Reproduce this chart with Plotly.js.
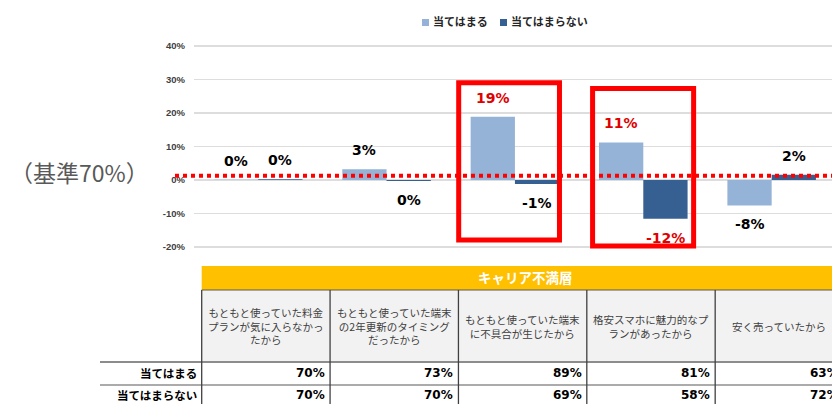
<!DOCTYPE html>
<html>
<head>
<meta charset="utf-8">
<script src="https://cdn.plot.ly/plotly-3.0.1.min.js"></script>
<style>
  html, body { margin: 0; padding: 0; background: #ffffff; overflow: hidden; }
  #chart { width: 832px; height: 404px; }
</style>
</head>
<body>
<div id="chart"></div>
<script>
const categories = [
  "もともと使っていた料金<br>プランが気に入らなかっ<br>たから",
  "もともと使っていた端末<br>の2年更新のタイミング<br>だったから",
  "もともと使っていた端末<br>に不具合が生じたから",
  "格安スマホに魅力的なプ<br>ランがあったから",
  "安く売っていたから"
];
const seriesNames = ["当てはまる", "当てはまらない"];
const fitDiff = [0.1, 3.2, 18.9, 11.2, -7.6];
const notFitDiff = [0.2, -0.3, -1.2, -11.6, 1.6];
const fitRate = ["70%", "73%", "89%", "81%", "63%"];
const notFitRate = ["70%", "70%", "69%", "58%", "72%"];
const groupTitle = "キャリア不満層";
const baseNote = "（基準70%）";
const baseLevel = 1.3;
const yTickVals = [-20, -10, 0, 10, 20, 30, 40];
const yTickText = ["-20%", "-10%", "0%", "10%", "20%", "30%", "40%"];
const highlighted = [2, 3];

const colors = ["#95B3D7", "#376092"];
const red = "#E00000";

// plot box in pixels, used for the table and legend drawn below it
const plotLeft = 194;
const plotTop = 40;
const plotW = 832 - plotLeft;
const plotH = 215;
const xRange = [-0.5, 4.47];
const unitPx = plotW / (xRange[1] - xRange[0]);
const paperX = (p) => (p - plotLeft) / plotW;
const paperY = (p) => (plotTop + plotH - p) / plotH;

const bargap = 0.31;
const half = (1 - bargap) / 4;
const tableShift = 0.06;

const series = [fitDiff, notFitDiff];

const traces = series.map((vals, t) => ({
  type: "bar",
  name: seriesNames[t],
  x: categories,
  y: vals,
  showlegend: false,
  marker: { color: colors[t], line: { width: 0 } },
  hoverinfo: "skip"
}));

const labelAnnotations = [];
series.forEach((vals, t) => {
  vals.forEach((v, i) => {
    const r = Math.round(v);
    labelAnnotations.push({
      xref: "x", yref: "y",
      x: i + (t === 0 ? -half : half),
      y: v,
      text: "<b>" + (r === 0 ? 0 : r) + "%</b>",
      showarrow: false,
      yshift: v >= 0 ? 19 : -19,
      font: { family: "DejaVu Sans, sans-serif", size: 14, color: Math.abs(r) >= 10 ? red : "#000000" }
    });
  });
});

const shapes = [];
const annotations = [...labelAnnotations];

// reference line
shapes.push({
  type: "line", xref: "paper", yref: "y",
  x0: paperX(175), x1: 1, y0: baseLevel, y1: baseLevel,
  line: { color: "#FF0000", width: 4, dash: "dot" }
});

// highlight boxes
highlighted.forEach((i, k) => {
  shapes.push({
    type: "rect", xref: "x", yref: "y",
    x0: i - (k === 0 ? 0.438 : 0.395), x1: i + (k === 0 ? 0.347 : 0.392),
    y0: k === 0 ? -17.9 : -19.7, y1: k === 0 ? 29.0 : 27.3,
    line: { color: "#FF0000", width: 5 },
    layer: "above"
  });
});

// legend
seriesNames.forEach((name, t) => {
  const sx = t === 0 ? 422 : 500;
  shapes.push({
    type: "rect", xref: "paper", yref: "paper",
    x0: paperX(sx), x1: paperX(sx + 7), y0: paperY(26), y1: paperY(19),
    fillcolor: colors[t], line: { width: 0 }
  });
  annotations.push({
    xref: "paper", yref: "paper",
    x: paperX(sx + 9), y: paperY(21),
    xanchor: "left", yanchor: "middle",
    text: "<b>" + name + "</b>",
    showarrow: false,
    font: { family: "Noto Sans CJK JP, sans-serif", size: 11, color: "#262626" }
  });
});

// base note
annotations.push({
  xref: "paper", yref: "paper",
  x: paperX(8), y: paperY(172),
  xanchor: "left", yanchor: "middle",
  text: baseNote,
  showarrow: false,
  font: { family: "Noto Sans CJK JP, sans-serif", size: 23, color: "#595959" }
});

// table below the chart
const colLeft = -0.5 + tableShift;
shapes.push({
  type: "rect", xref: "x", yref: "paper",
  x0: colLeft, x1: 6, y0: paperY(290), y1: paperY(266),
  fillcolor: "#FFC000", line: { width: 0 }
});
shapes.push({
  type: "rect", xref: "x", yref: "paper",
  x0: colLeft, x1: 6, y0: paperY(362), y1: paperY(290),
  fillcolor: "#F2F2F2", line: { width: 0 }
});
shapes.push({
  type: "line", xref: "x", yref: "paper",
  x0: colLeft, x1: 6, y0: paperY(290), y1: paperY(290),
  line: { color: "#595959", width: 1 }
});
[362, 385].forEach((py, k) => {
  shapes.push({
    type: "line", xref: "paper", yref: "paper",
    x0: paperX(100), x1: 1, y0: paperY(py), y1: paperY(py),
    line: { color: k === 0 ? "#8C8C8C" : "#595959", width: k === 0 ? 2 : 1.2 }
  });
});
for (let i = 0; i <= categories.length; i++) {
  shapes.push({
    type: "line", xref: "x", yref: "paper",
    x0: colLeft + i, x1: colLeft + i, y0: paperY(290), y1: paperY(404),
    line: { color: "#404040", width: 1.3 }
  });
}

annotations.push({
  xref: "paper", yref: "paper",
  x: paperX(525), y: paperY(277),
  xanchor: "center", yanchor: "middle",
  text: "<b>" + groupTitle + "</b>",
  showarrow: false,
  font: { family: "Noto Sans CJK JP, sans-serif", size: 13.5, color: "#ffffff" }
});

categories.forEach((cat, i) => {
  annotations.push({
    xref: "x", yref: "paper",
    x: i + tableShift, y: paperY(326),
    xanchor: "center", yanchor: "middle",
    text: cat,
    align: "center",
    showarrow: false,
    font: { family: "Noto Sans CJK JP, sans-serif", size: 10.5, color: "#404040" }
  });
});

[fitRate, notFitRate].forEach((rates, r) => {
  const py = r === 0 ? 373 : 395;
  annotations.push({
    xref: "paper", yref: "paper",
    x: paperX(199), y: paperY(py),
    xanchor: "right", yanchor: "middle",
    text: "<b>" + seriesNames[r] + "</b>",
    showarrow: false,
    font: { family: "Noto Sans CJK JP, sans-serif", size: 11.5, color: "#000000" }
  });
  rates.forEach((txt, i) => {
    // anchored at the column centre so the last, cut-off column still shows
    annotations.push({
      xref: "x", yref: "paper",
      x: i, y: paperY(py),
      xanchor: "right", yanchor: "middle",
      xshift: (0.5 + tableShift) * unitPx - 3,
      text: "<b>" + txt + "</b>",
      showarrow: false,
      font: { family: "DejaVu Sans, sans-serif", size: 12, color: "#000000" }
    });
  });
});

const layout = {
  width: 832,
  height: 404,
  margin: { l: plotLeft, r: 0, t: plotTop, b: 404 - plotTop - plotH },
  paper_bgcolor: "#ffffff",
  plot_bgcolor: "#ffffff",
  barmode: "group",
  bargap: bargap,
  bargroupgap: 0,
  showlegend: false,
  xaxis: {
    type: "category",
    range: xRange,
    showticklabels: false,
    showgrid: false,
    zeroline: false,
    showline: false,
    fixedrange: true
  },
  yaxis: {
    range: [-22.39, 41.79],
    tickvals: yTickVals,
    ticktext: yTickText,
    tickfont: { family: "Liberation Sans, sans-serif", size: 9.5, color: "#404040", weight: "bold" },
    ticklabelstandoff: 8,
    showgrid: true,
    gridcolor: "#DDDDDD",
    gridwidth: 1.2,
    zeroline: true,
    zerolinecolor: "#DDDDDD",
    zerolinewidth: 1.2,
    showline: false,
    fixedrange: true
  },
  shapes: shapes,
  annotations: annotations
};

Plotly.newPlot("chart", traces, layout, { displayModeBar: false, staticPlot: true });
</script>
</body>
</html>
